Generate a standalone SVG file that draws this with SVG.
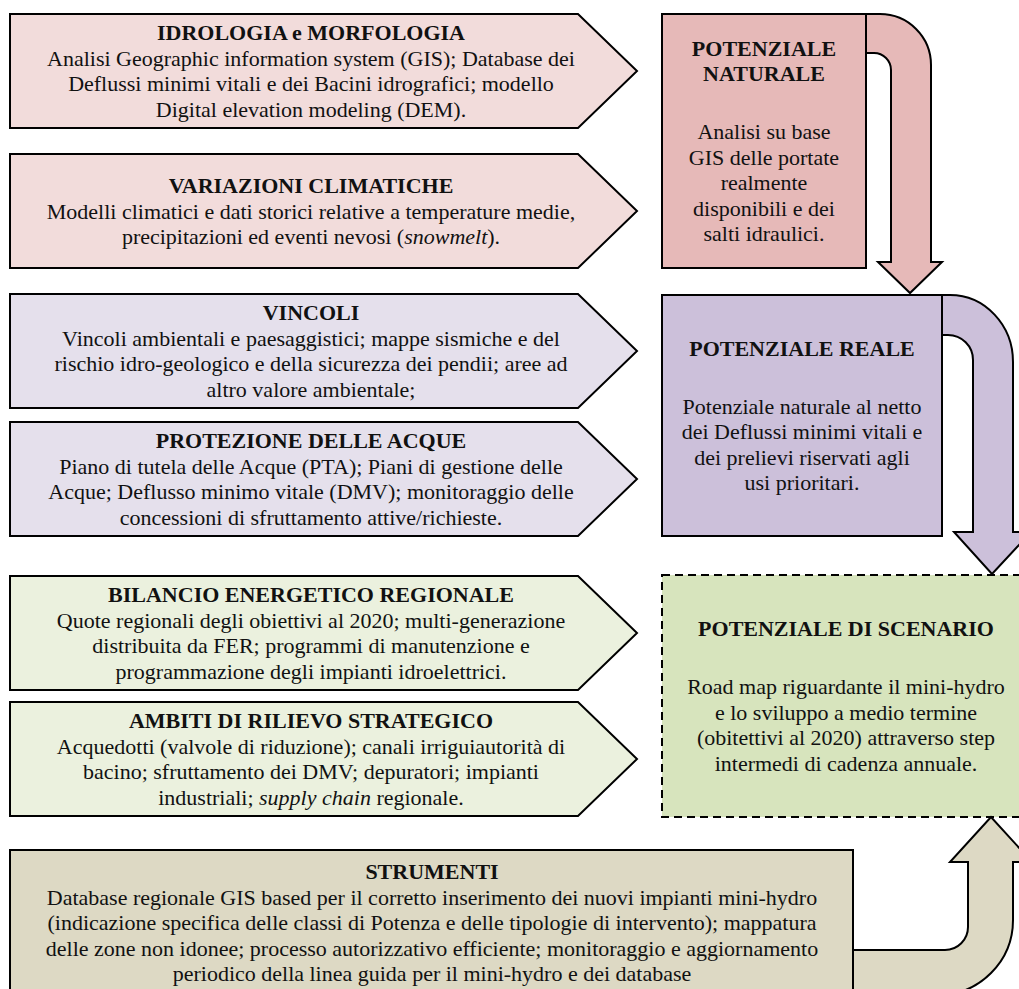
<svg xmlns="http://www.w3.org/2000/svg" width="1019" height="989" viewBox="0 0 1019 989">
  <style>
    .t { font-family: "Liberation Serif", "Times New Roman", serif; font-size: 22px; fill: #111; text-anchor: middle; }
    .b { font-weight: bold; }
    .sh { stroke: #000; stroke-width: 2; stroke-linejoin: miter; }
    .pinkL { fill: #f2dcdb; }
    .pinkD { fill: #e6b9b8; }
    .lilL { fill: #e5e0ec; }
    .lilD { fill: #ccc0da; }
    .grnL { fill: #ebf1de; }
    .grnD { fill: #d7e4bd; }
    .tan { fill: #ddd9c4; }
  </style>
  <rect width="1019" height="989" fill="#ffffff"/>

  <!-- input blocks (chevrons) -->
  <g id="idrologia">
    <path class="sh pinkL" d="M10,14 H578 L637,71 L578,128 H10 Z"/>
    <text class="t b" x="311" y="40.3">IDROLOGIA e MORFOLOGIA</text>
    <text class="t" x="311" y="65.8">Analisi Geographic information system (GIS); Database dei</text>
    <text class="t" x="311" y="91.3">Deflussi minimi vitali e dei Bacini idrografici; modello</text>
    <text class="t" x="311" y="116.8">Digital elevation modeling (DEM).</text>
  </g>
  <g id="variazioni">
    <path class="sh pinkL" d="M10,154 H578 L637,211 L578,268 H10 Z"/>
    <text class="t b" x="311" y="193">VARIAZIONI CLIMATICHE</text>
    <text class="t" x="311" y="218.5">Modelli climatici e dati storici relative a temperature medie,</text>
    <text class="t" x="311" y="244">precipitazioni ed eventi nevosi (<tspan font-style="italic">snowmelt</tspan>).</text>
  </g>
  <g id="vincoli">
    <path class="sh lilL" d="M10,294 H578 L637,351 L578,408 H10 Z"/>
    <text class="t b" x="311" y="320.3">VINCOLI</text>
    <text class="t" x="311" y="345.8">Vincoli ambientali e paesaggistici; mappe sismiche e del</text>
    <text class="t" x="311" y="371.3">rischio idro-geologico e della sicurezza dei pendii; aree ad</text>
    <text class="t" x="311" y="396.8">altro valore ambientale;</text>
  </g>
  <g id="protezione">
    <path class="sh lilL" d="M10,422 H578 L637,479 L578,536 H10 Z"/>
    <text class="t b" x="311" y="448.3">PROTEZIONE DELLE ACQUE</text>
    <text class="t" x="311" y="473.8">Piano di tutela delle Acque (PTA); Piani di gestione delle</text>
    <text class="t" x="311" y="499.3">Acque; Deflusso minimo vitale (DMV); monitoraggio delle</text>
    <text class="t" x="311" y="524.8">concessioni di sfruttamento attive/richieste.</text>
  </g>
  <g id="bilancio">
    <path class="sh grnL" d="M10,576 H578 L637,633 L578,690 H10 Z"/>
    <text class="t b" x="311" y="602.3">BILANCIO ENERGETICO REGIONALE</text>
    <text class="t" x="311" y="627.8">Quote regionali degli obiettivi al 2020; multi-generazione</text>
    <text class="t" x="311" y="653.3">distribuita da FER; programmi di manutenzione e</text>
    <text class="t" x="311" y="678.8">programmazione degli impianti idroelettrici.</text>
  </g>
  <g id="ambiti">
    <path class="sh grnL" d="M10,702 H578 L637,759 L578,816 H10 Z"/>
    <text class="t b" x="311" y="728.3">AMBITI DI RILIEVO STRATEGICO</text>
    <text class="t" x="311" y="753.8">Acquedotti (valvole di riduzione); canali irriguiautorità di</text>
    <text class="t" x="311" y="779.3">bacino; sfruttamento dei DMV; depuratori; impianti</text>
    <text class="t" x="311" y="804.8">industriali; <tspan font-style="italic">supply chain</tspan> regionale.</text>
  </g>

  <!-- potential stages -->
  <g id="potenziale-naturale">
    <rect class="sh pinkD" x="662" y="14" width="204" height="254"/>
    <text class="t b" x="764" y="55.7">POTENZIALE</text>
    <text class="t b" x="764" y="81.2">NATURALE</text>
    <text class="t" x="764" y="139.2">Analisi su base</text>
    <text class="t" x="764" y="164.7">GIS delle portate</text>
    <text class="t" x="764" y="190.2">realmente</text>
    <text class="t" x="764" y="215.7">disponibili e dei</text>
    <text class="t" x="764" y="241.2">salti idraulici.</text>
  </g>
  <g id="potenziale-reale">
    <rect class="sh lilD" x="662" y="295" width="280" height="241"/>
    <text class="t b" x="802" y="355.7">POTENZIALE REALE</text>
    <text class="t" x="802" y="413.7">Potenziale naturale al netto</text>
    <text class="t" x="802" y="439.2">dei Deflussi minimi vitali e</text>
    <text class="t" x="802" y="464.7">dei prelievi riservati agli</text>
    <text class="t" x="802" y="490.2">usi prioritari.</text>
  </g>
  <g id="potenziale-scenario">
    <rect class="grnD" x="662" y="575" width="370" height="242" stroke="#000" stroke-width="2" stroke-dasharray="8 5"/>
    <text class="t b" x="846" y="636.2">POTENZIALE DI SCENARIO</text>
    <text class="t" x="846" y="694.2">Road map riguardante il mini-hydro</text>
    <text class="t" x="846" y="719.7">e lo sviluppo a medio termine</text>
    <text class="t" x="846" y="745.2">(obitettivi al 2020) attraverso step</text>
    <text class="t" x="846" y="770.7">intermedi di cadenza annuale.</text>
  </g>
  <g id="strumenti">
    <rect class="sh tan" x="10" y="850" width="843" height="146"/>
    <text class="t b" x="432" y="879">STRUMENTI</text>
    <text class="t" x="432" y="904.5">Database regionale GIS based per il corretto inserimento dei nuovi impianti mini-hydro</text>
    <text class="t" x="432" y="930">(indicazione specifica delle classi di Potenza e delle tipologie di intervento); mappatura</text>
    <text class="t" x="432" y="955.5">delle zone non idonee; processo autorizzativo efficiente; monitoraggio e aggiornamento</text>
    <text class="t" x="432" y="981">periodico della linea guida per il mini-hydro e dei database</text>
  </g>

  <!-- bent block arrows between stages -->
  <g id="connectors">
    <path class="sh pinkD" d="M866,14 H880 A51,51 0 0 1 931,65 V262 H942 L910,293 L878,262 H891 V70 A17,17 0 0 0 874,53 H866 Z"/>
    <path class="sh lilD" d="M942,295 H950 A63,67 0 0 1 1013,362 V532 H1031 L992,574 L954,532 H973 V360 A25,25 0 0 0 948,335 H942 Z"/>
    <path class="sh tan" d="M853,950 H945 A23,23 0 0 0 968,927 V862 H950 L991,817 L1032,862 H1013 V920 A75,75 0 0 1 938,995 H853 Z"/>
  </g>
</svg>
